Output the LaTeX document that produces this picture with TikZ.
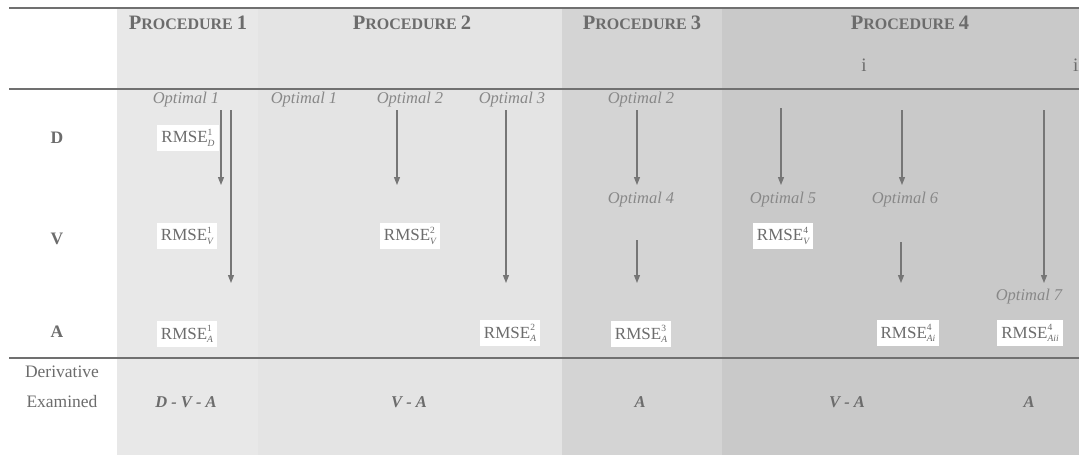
\documentclass[tikz,border=0pt]{standalone}
\usepackage{fontspec}
\setmainfont{Liberation Serif}
\usetikzlibrary{arrows.meta}
\definecolor{bandone}{HTML}{E8E8E8}
\definecolor{bandtwo}{HTML}{E4E4E4}
\definecolor{bandthree}{HTML}{D4D4D4}
\definecolor{bandfour}{HTML}{C9C9C9}
\definecolor{rulegray}{HTML}{707070}
\definecolor{arrgray}{HTML}{767676}
\definecolor{txtgray}{HTML}{6C6C6C}
\definecolor{optgray}{HTML}{888888}
\newcommand{\proc}[1]{\fontsize{20.5}{20.5}\selectfont P\fontsize{16}{16}\selectfont ROCEDURE \fontsize{20.5}{20.5}\selectfont #1}
\newcommand{\rmse}[2]{RMSE\raisebox{-3.5pt}{\fontsize{9.5}{9.5}\selectfont\shortstack[l]{#1\\[1.5pt]\itshape #2}}}
\tikzset{
  proclab/.style={text=txtgray, font=\bfseries},
  optl/.style={text=optgray, font=\fontsize{16.5}{16.5}\selectfont\itshape, inner sep=1pt},
  rbox/.style={fill=white, text=txtgray, font=\fontsize{17}{17}\selectfont, inner xsep=4pt, inner ysep=4pt},
  rowlab/.style={text=txtgray, font=\fontsize{17.5}{17.5}\selectfont\bfseries},
  sidelab/.style={text=txtgray, font=\fontsize{17.5}{17.5}\selectfont},
  derlab/.style={text=txtgray, font=\fontsize{16.5}{16.5}\selectfont\bfseries\itshape},
  romlab/.style={text=txtgray, font=\fontsize{19}{19}\selectfont},
  arr/.style={draw=arrgray, line width=1.2pt, -{Triangle[length=8pt,width=6pt]}},
  hrule/.style={draw=rulegray, line width=2.2pt}
}
\begin{document}
\begin{tikzpicture}[x=1pt,y=-1pt]
\useasboundingbox (0,0) rectangle (1079,455);
\clip (0,0) rectangle (1079,455);
% bands
\fill[bandone] (117,8) rectangle (258,455);
\fill[bandtwo] (258,8) rectangle (562,455);
\fill[bandthree] (562,8) rectangle (722,455);
\fill[bandfour] (722,8) rectangle (1079,455);
% rules
\coordinate (r1a) at (9,8);   \coordinate (r1b) at (1079,8);
\coordinate (r2a) at (9,89);  \coordinate (r2b) at (1079,89);
\coordinate (r3a) at (9,358); \coordinate (r3b) at (1079,358);
\draw[hrule] (r1a) -- (r1b);
\draw[hrule] (r2a) -- (r2b);
\draw[hrule] (r3a) -- (r3b);
% headings
\node[proclab] (p1) at (188,23) {\proc{1}};
\node[proclab] (p2) at (412,23) {\proc{2}};
\node[proclab] (p3) at (642,23) {\proc{3}};
\node[proclab] (p4) at (910,23) {\proc{4}};
\node[romlab] (ri) at (864,65) {i};
\node[romlab, anchor=west, inner sep=0pt] (rii) at (1073,65) {ii};
% row labels
\node[rowlab] (lD) at (57,138) {D};
\node[rowlab] (lV) at (57,239) {V};
\node[rowlab] (lA) at (57,332) {A};
\node[sidelab] (der) at (62,372) {Derivative};
\node[sidelab] (exa) at (62,402) {Examined};
% optimal labels
\node[optl] (o1a) at (186,100) {Optimal 1};
\node[optl] (o1b) at (304,100) {Optimal 1};
\node[optl] (o2b) at (410,100) {Optimal 2};
\node[optl] (o3)  at (512,100) {Optimal 3};
\node[optl] (o2c) at (641,100) {Optimal 2};
\node[optl] (o4)  at (641,200) {Optimal 4};
\node[optl] (o5)  at (783,200) {Optimal 5};
\node[optl] (o6)  at (905,200) {Optimal 6};
\node[optl] (o7)  at (1029,297) {Optimal 7};
% RMSE boxes
\node[rbox] (rD1) at (188,138) {\rmse{1}{D}};
\node[rbox] (rV1) at (187,236) {\rmse{1}{V}};
\node[rbox] (rA1) at (187,334) {\rmse{1}{A}};
\node[rbox] (rV2) at (410,236) {\rmse{2}{V}};
\node[rbox] (rA2) at (510,333) {\rmse{2}{A}};
\node[rbox] (rA3) at (641,334) {\rmse{3}{A}};
\node[rbox] (rV4) at (783,236) {\rmse{4}{V}};
\node[rbox] (rAi) at (908,333) {\rmse{4}{Ai}};
\node[rbox] (rAii) at (1030,333) {\rmse{4}{Aii}};
% derivative examined
\node[derlab] (d1) at (186,402) {D - V - A};
\node[derlab] (d2) at (409,402) {V - A};
\node[derlab] (d3) at (640,402) {A};
\node[derlab] (d4) at (847,402) {V - A};
\node[derlab] (d5) at (1029,402) {A};
% arrow end points
\coordinate (a1s) at (221,110);  \coordinate (a1e) at (221,185);
\coordinate (a2s) at (231,110);  \coordinate (a2e) at (231,283);
\coordinate (a3s) at (397,110);  \coordinate (a3e) at (397,185);
\coordinate (a4s) at (506,110);  \coordinate (a4e) at (506,283);
\coordinate (a5s) at (637,110);  \coordinate (a5e) at (637,185);
\coordinate (a6s) at (637,240);  \coordinate (a6e) at (637,283);
\coordinate (a7s) at (781,108);  \coordinate (a7e) at (781,185);
\coordinate (a8s) at (902,110);  \coordinate (a8e) at (902,185);
\coordinate (a9s) at (901,242);  \coordinate (a9e) at (901,283);
\coordinate (a10s) at (1044,110); \coordinate (a10e) at (1044,283);
\foreach \i in {1,...,10} { \draw[arr] (a\i s) -- (a\i e); }
\end{tikzpicture}
\end{document}
